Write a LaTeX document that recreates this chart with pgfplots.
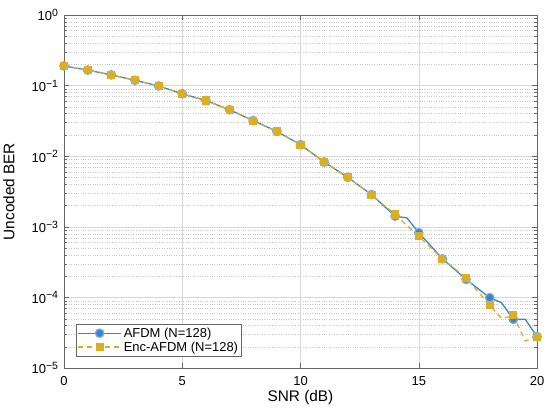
\documentclass[border=0pt]{standalone}
\usepackage{fontspec}
\setmainfont{Liberation Sans}
\usepackage{pgfplots}
\usepackage{pgfplotstable}
\pgfplotsset{compat=1.18}
\definecolor{mblue}{RGB}{55,132,207}
\definecolor{mgold}{RGB}{218,175,38}
\newcommand{\ex}[1]{10\textsuperscript{\fontsize{10.5bp}{12bp}\selectfont #1}}
\pgfplotstableread{
x y
0 0.19
1 0.166
2 0.142
3 0.119
4 0.099
5 0.0766
6 0.0616
7 0.0455
8 0.032
9 0.0225
10 0.0146
11 0.0083
12 0.00503
13 0.00287
14 0.00142
14.5 0.00134
15 0.00083
16 0.000354
17 0.000181
18 0.0000997
18.5 0.0000847
19 0.0000492
19.5 0.0000495
20 0.000028
}\afdm
\pgfplotstableread{
x y
0 0.19
1 0.166
2 0.142
3 0.119
4 0.099
5 0.0766
6 0.0616
7 0.0455
8 0.032
9 0.0225
10 0.0146
11 0.0083
12 0.00503
13 0.00287
14 0.0015
14.5 0.00105
15 0.00074
16 0.000354
17 0.000191
18 0.0000783
18.5 0.0000504
19 0.000056
19.5 0.0000243
20 0.000028
}\enc
\begin{document}
\begin{tikzpicture}
\begin{axis}[name=ax, scale only axis, width=474bp, height=354bp,
  ymode=log, xmin=0, xmax=20, ymin=1e-5, ymax=1,
  xtick={0,5,10,15,20},
  ytick={1e-5,1e-4,1e-3,1e-2,1e-1,1},
  yticklabels={\ex{−5},\ex{−4},\ex{−3},\ex{−2},\ex{−1},\ex{0}},
  xmajorgrids, ymajorgrids, yminorgrids,
  major grid style={black!15, line width=0.5bp},
  minor grid style={black!22, dotted, line width=0.5bp},
  tick align=inside,
  major tick length=5bp, minor tick length=3bp,
  axis line style={black!60}, every tick/.style={black!60, line width=0.5bp},
  xlabel={SNR (dB)}, ylabel={Uncoded BER},
  /pgf/number format/assume math mode=true,
  ticklabel style={font=\fontsize{13bp}{15bp}\selectfont},
  xticklabel style={yshift=-5bp},
  yticklabel style={xshift=-2bp},
  label style={font=\fontsize{15.4bp}{18bp}\selectfont},
  xlabel style={at={(axis description cs:0.5,-0.054)}, anchor=north},
  ylabel style={at={(axis description cs:-0.097,0.5)}, anchor=south},
  legend style={at={(0.025,0.034)}, anchor=south west, draw=black!60,
    font=\fontsize{13bp}{15bp}\selectfont, inner sep=1.5bp, row sep=-1bp},
  legend cell align=left,
  legend image code/.code={\draw[#1, mark indices={2}] plot coordinates {(0cm,0cm)(0.76cm,0cm)(1.52cm,0cm)};},
]
\addplot[mblue, line width=1.3bp, mark=*, mark size=4.2bp,
  mark options={solid, fill=mblue, draw=mblue!70},
  mark indices={1,2,3,4,5,6,7,8,9,10,11,12,13,14,15,17,18,19,20,22,24}]
  table[x=x,y=y]{\afdm};
\addlegendentry{AFDM (N=128)}
\addplot[mgold, line width=1.3bp, dash pattern=on 5bp off 4bp, mark=square*, mark size=3.4bp,
  mark options={solid, fill=mgold, draw=mgold},
  mark indices={1,2,3,4,5,6,7,8,9,10,11,12,13,14,15,17,18,19,20,22,24}]
  table[x=x,y=y]{\enc};
\addlegendentry{Enc-AFDM (N=128)}
\end{axis}
\path ([shift={(-63bp,-48bp)}]ax.south west) rectangle ([shift={(13bp,15bp)}]ax.north east);
\end{tikzpicture}
\end{document}
